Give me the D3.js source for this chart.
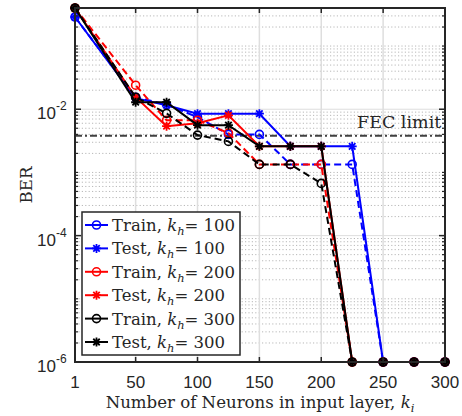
<!DOCTYPE html>
<html>
<head>
<meta charset="utf-8">
<script src="https://cdn.jsdelivr.net/npm/d3@7"></script>
<style>
  html, body { margin: 0; padding: 0; background: #fff; }
  svg { display: block; }
</style>
</head>
<body>
<svg id="chart" width="462" height="416"></svg>
<script>
// ---------------- DATA ----------------
const neurons = [1, 50, 75, 100, 125, 150, 175, 200, 225, 250, 275, 300];
const xTicks = [1, 50, 100, 150, 200, 250, 300];
const yTickExps = [-6, -4, -2];
const fecLimit = 3.8e-3;

const trainK100 = [0.288, 0.0155, 0.0118, 0.0075, 0.0040, 0.0040, 0.00134, 0.00134, 0.00134, 1e-6, 1e-6, 1e-6];
const testK100  = [0.288, 0.0150, 0.0116, 0.0085, 0.0085, 0.0085, 0.00259, 0.00259, 0.00259, 1e-6, 1e-6, 1e-6];
const trainK200 = [0.40, 0.024, 0.0067, 0.0067, 0.0042, 0.00134, 0.00134, 0.00134, 1e-6, 1e-6, 1e-6, 1e-6];
const testK200  = [0.40, 0.0155, 0.0054, 0.0060, 0.0080, 0.00259, 0.00259, 0.00259, 1e-6, 1e-6, 1e-6, 1e-6];
const trainK300 = [0.40, 0.0155, 0.0086, 0.0039, 0.0031, 0.00134, 0.00134, 0.00067, 1e-6, 1e-6, 1e-6, 1e-6];
const testK300  = [0.40, 0.0129, 0.0129, 0.0056, 0.0056, 0.00259, 0.00259, 0.00259, 1e-6, 1e-6, 1e-6, 1e-6];

const series = [
  { kind: "Train", k: "100", color: "#0000ff", values: trainK100 },
  { kind: "Test",  k: "100", color: "#0000ff", values: testK100 },
  { kind: "Train", k: "200", color: "#ff0000", values: trainK200 },
  { kind: "Test",  k: "200", color: "#ff0000", values: testK200 },
  { kind: "Train", k: "300", color: "#000000", values: trainK300 },
  { kind: "Test",  k: "300", color: "#000000", values: testK300 }
];

// ---------------- LAYOUT ----------------
const svg = d3.select("#chart");
const L = 75, R = 445, T = 8, B = 362;
const x = d3.scaleLinear().domain([1, 300]).range([L, R]);
const y = d3.scaleLog().domain([1e-6, 0.4]).range([B, T]);
const serif = "'DejaVu Serif', serif";
const sans = "'Liberation Sans', Arial, Helvetica, sans-serif";

// ---------------- GRID ----------------
const grid = svg.append("g");
const minorVals = [];
for (let e = -6; e <= -1; e++) {
  for (let m = 1; m <= 9; m++) {
    const v = m * Math.pow(10, e);
    if (v <= 0.4 && !(m === 1 && yTickExps.includes(e))) minorVals.push(v);
  }
}
grid.selectAll(".minor").data(minorVals).join("line")
  .attr("x1", L).attr("x2", R)
  .attr("y1", d => y(d)).attr("y2", d => y(d))
  .attr("stroke", "#b8b8b8").attr("stroke-width", 1)
  .attr("stroke-dasharray", "1.2,2.2");
grid.selectAll(".majy").data(yTickExps.map(e => Math.pow(10, e))).join("line")
  .attr("x1", L).attr("x2", R)
  .attr("y1", d => y(d)).attr("y2", d => y(d))
  .attr("stroke", "#dedede").attr("stroke-width", 1);
grid.selectAll(".majx").data(xTicks).join("line")
  .attr("x1", d => x(d)).attr("x2", d => x(d))
  .attr("y1", T).attr("y2", B)
  .attr("stroke", "#dedede").attr("stroke-width", 1.5);

// ---------------- FEC LIMIT ----------------
svg.append("line")
  .attr("x1", L).attr("x2", R)
  .attr("y1", y(fecLimit)).attr("y2", y(fecLimit))
  .attr("stroke", "#404040").attr("stroke-width", 2)
  .attr("stroke-dasharray", "7,3,2,3");
svg.append("text")
  .attr("x", 357).attr("y", y(fecLimit) - 8)
  .attr("font-family", serif).attr("font-size", 17.5)
  .attr("fill", "#262626")
  .text("FEC limit");

// ---------------- MARKERS ----------------
function drawMarker(g, kind, cx, cy, color) {
  if (kind === "Train") {
    g.append("circle").attr("cx", cx).attr("cy", cy).attr("r", 4)
      .attr("fill", "none").attr("stroke", color).attr("stroke-width", 1.6);
  } else {
    const s = 4.5, d = s * 0.72;
    const p = `M${cx - s},${cy}L${cx + s},${cy}M${cx},${cy - s}L${cx},${cy + s}` +
              `M${cx - d},${cy - d}L${cx + d},${cy + d}M${cx - d},${cy + d}L${cx + d},${cy - d}`;
    g.append("path").attr("d", p).attr("stroke", color).attr("stroke-width", 1.8).attr("fill", "none");
  }
}

// ---------------- LINES ----------------
const line = d3.line().x(d => x(d[0])).y(d => y(d[1]));
const plot = svg.append("g");
series.forEach(s => {
  const pts = neurons.map((n, i) => [n, s.values[i]]);
  const g = plot.append("g");
  g.append("path").datum(pts).attr("d", line)
    .attr("fill", "none").attr("stroke", s.color).attr("stroke-width", 2)
    .attr("stroke-dasharray", s.kind === "Train" ? "7,4" : null);
  pts.forEach(p => drawMarker(g, s.kind, x(p[0]), y(p[1]), s.color));
});

// ---------------- AXES BOX & TICKS ----------------
const ax = svg.append("g");
ax.append("rect").attr("x", L).attr("y", T).attr("width", R - L).attr("height", B - T)
  .attr("fill", "none").attr("stroke", "#262626").attr("stroke-width", 2);
xTicks.forEach(t => {
  ax.append("line").attr("x1", x(t)).attr("x2", x(t)).attr("y1", B).attr("y2", B - 5)
    .attr("stroke", "#262626").attr("stroke-width", 1.5);
  ax.append("line").attr("x1", x(t)).attr("x2", x(t)).attr("y1", T).attr("y2", T + 5)
    .attr("stroke", "#262626").attr("stroke-width", 1.5);
  ax.append("text").attr("x", x(t)).attr("y", B + 26)
    .attr("text-anchor", "middle").attr("font-family", sans).attr("font-size", 17)
    .attr("fill", "#262626").text(t);
});
minorVals.forEach(v => {
  ax.append("line").attr("x1", L).attr("x2", L + 3).attr("y1", y(v)).attr("y2", y(v))
    .attr("stroke", "#262626").attr("stroke-width", 1.2);
  ax.append("line").attr("x1", R).attr("x2", R - 3).attr("y1", y(v)).attr("y2", y(v))
    .attr("stroke", "#262626").attr("stroke-width", 1.2);
});
yTickExps.forEach(e => {
  const yy = y(Math.pow(10, e));
  ax.append("line").attr("x1", L).attr("x2", L + 6).attr("y1", yy).attr("y2", yy)
    .attr("stroke", "#262626").attr("stroke-width", 1.5);
  ax.append("line").attr("x1", R).attr("x2", R - 6).attr("y1", yy).attr("y2", yy)
    .attr("stroke", "#262626").attr("stroke-width", 1.5);
  ax.append("text").attr("x", 56).attr("y", yy + 10)
    .attr("text-anchor", "end").attr("font-family", sans).attr("font-size", 17)
    .attr("fill", "#262626").text("10");
  ax.append("text").attr("x", 56).attr("y", yy + 1)
    .attr("text-anchor", "start").attr("font-family", sans).attr("font-size", 12)
    .attr("fill", "#262626").text("-" + Math.abs(e));
});

// ---------------- AXIS LABELS ----------------
const xl = svg.append("text").attr("x", (L + R) / 2).attr("y", 408)
  .attr("text-anchor", "middle").attr("font-family", serif).attr("font-size", 16.6)
  .attr("fill", "#262626");
xl.append("tspan").text("Number of Neurons in input layer, ");
xl.append("tspan").attr("font-style", "italic").text("k");
xl.append("tspan").attr("font-style", "italic").attr("font-size", 11.5).attr("dy", 4).text("i");

svg.append("text").attr("transform", `translate(32,${(T + B) / 2}) rotate(-90)`)
  .attr("text-anchor", "middle").attr("font-family", serif).attr("font-size", 16.6)
  .attr("fill", "#262626").text("BER");

// ---------------- LEGEND ----------------
const lg = svg.append("g");
lg.append("rect").attr("x", 82).attr("y", 212).attr("width", 158).attr("height", 143)
  .attr("fill", "#fff").attr("stroke", "#262626").attr("stroke-width", 1.5);
series.forEach((s, i) => {
  const yy = 225 + i * 23.4;
  const g = lg.append("g");
  g.append("line").attr("x1", 85).attr("x2", 108).attr("y1", yy).attr("y2", yy)
    .attr("stroke", s.color).attr("stroke-width", 2);
  drawMarker(g, s.kind, 96.5, yy, s.color);
  const t = g.append("text").attr("x", 112).attr("y", yy + 6)
    .attr("font-family", serif).attr("font-size", 16.5).attr("fill", "#262626");
  t.append("tspan").text(s.kind + ", ");
  t.append("tspan").attr("font-style", "italic").text("k");
  t.append("tspan").attr("font-style", "italic").attr("font-size", 11.5).attr("dy", 4).text("h");
  t.append("tspan").attr("dy", -4).text("= " + s.k);
});
</script>
</body>
</html>
